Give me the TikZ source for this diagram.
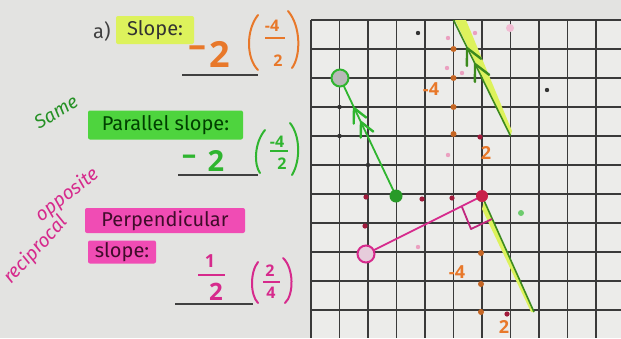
\documentclass[tikz,border=0pt]{standalone}
\usepackage{fontspec}
\setmainfont{Fira Sans}
\newfontfamily\hand{Open Sans}
\definecolor{bgc}{HTML}{E3E3E1}
\definecolor{paper}{HTML}{ECECEA}
\definecolor{gridc}{HTML}{3A3A3A}
\definecolor{hlyellow}{HTML}{DDF25C}
\definecolor{hlgreen}{HTML}{4ED43E}
\definecolor{hlpink}{HTML}{F04CB4}
\definecolor{orng}{HTML}{E8782A}
\definecolor{grn}{HTML}{2FB52F}
\definecolor{dgrn}{HTML}{3C8A1E}
\definecolor{mag}{HTML}{D62A8C}
\definecolor{redd}{HTML}{C8204A}
\definecolor{faintpink}{HTML}{EBA0C0}
\usetikzlibrary{calc}
\begin{document}
\begin{tikzpicture}[x=1pt,y=-1pt,
  gridline/.style={draw=gridc, line width=1.1pt},
  lbl/.style={font=\fontsize{20}{24}\selectfont, inner sep=0pt},
  hlbox/.style={lbl, rounded corners=2pt, inner xsep=4pt, inner ysep=0pt, minimum height=25pt},
  handbig/.style={font=\hand\bfseries\fontsize{36}{40}\selectfont, inner sep=0pt},
  handmid/.style={font=\hand\bfseries\fontsize{29}{32}\selectfont, inner sep=0pt},
  handsm/.style={font=\hand\bfseries\fontsize{18}{20}\selectfont, inner sep=0pt},
  handfr/.style={font=\hand\bfseries\fontsize{16}{18}\selectfont, inner sep=0pt},
  script/.style={font=\itshape\fontsize{19}{21}\selectfont, inner sep=0pt},
  uline/.style={draw=black!75, line width=1.3pt},
  paren/.style={line width=2pt, line cap=round},
  dotk/.style={fill=black!80},
  dotr/.style={fill=redd!80!black},
  doto/.style={fill=orng!85!black},
  dotp/.style={fill=faintpink}
]
\useasboundingbox (0,0) rectangle (621,338);
\fill[bgc] (0,0) rectangle (621,338);
\fill[paper] (311,20) rectangle (621,338);

% ---------- grid ----------
\foreach \i in {0,...,10} \draw[gridline] ({311+28.5*\i},20) -- ({311+28.5*\i},338);
\foreach \j in {0,...,10} \draw[gridline] (311,{20+29*\j}) -- (621,{20+29*\j});

% ---------- key points ----------
\coordinate (l1top) at (453.5,20);
\coordinate (l1bot) at (510.5,136);
\coordinate (gc) at (340,78);
\coordinate (gd) at (396,196);
\coordinate (pc) at (366,254);
\coordinate (rd) at (482,196);
\coordinate (l2bot) at (534,312);

% yellow highlights
\fill[hlyellow] (455,20) -- (466,20) -- (512,131) -- (510.5,136) -- cycle;
\fill[hlyellow] (484,201) -- (482,209) -- (531,312) -- (534,312) -- cycle;

% small dots
\foreach \p in {(339.5,107),(339.5,136),(368,165),(418,33),(547,90)} \fill[dotk] \p circle (2.2pt);
\foreach \p in {(448,38),(475,33),(447,68),(462,73),(448,155),(418,247)} \fill[dotp] \p circle (2.2pt);
\foreach \p in {(453.5,49),(453.5,78),(453.5,107),(453.5,134),(481,253),(481,284),(481,312)} \fill[doto] \p circle (3pt);
\foreach \p in {(480,137),(366,197),(422,199),(452,198),(365,226),(507,314)} \fill[dotr] \p circle (2.6pt);
\fill[grn!70] (521,213) circle (3pt);
\fill[faintpink!70] (510,28) circle (4pt);

% line 1 (given line) with chevrons
\draw[dgrn, line width=1.6pt] (l1top) -- (l1bot);
\coordinate (t1) at (467,48);
\coordinate (t2) at (475,64);
\draw[dgrn, line width=2.4pt, line cap=round, line join=round]
  (481.2,58.8) -- (t1) -- (466.9,65.9)
  (489.2,74.8) -- (t2) -- (474.9,81.9);

% parallel line (green)
\draw[grn, line width=1.8pt] (gc) -- (gd);
\coordinate (t3) at (354,108);
\coordinate (t4) at (361,122);
\draw[grn, line width=2.4pt, line cap=round, line join=round]
  (366.3,117.6) -- (t3) -- (353.7,123.6)
  (373.3,131.6) -- (t4) -- (360.7,137.6);
\node[circle, draw=grn, line width=2pt, fill=gray!55, minimum size=17pt, inner sep=0] (gcirc) at (gc) {};
\node[circle, fill=grn!85!black, minimum size=13pt, inner sep=0] (gdot) at (gd) {};

% second given line through red point
\draw[dgrn, line width=1.6pt] (rd) -- (l2bot);

% perpendicular line (magenta)
\draw[mag, line width=1.8pt] (pc) -- (rd);
\draw[mag!90!black, line width=1.8pt, line join=round] (462,207) -- (471,229) -- (492,219);
\node[circle, draw=mag, line width=2pt, fill=gray!50!mag!30, minimum size=17pt, inner sep=0] (pcirc) at (pc) {};
\node[circle, fill=redd, minimum size=12pt, inner sep=0] (rdot) at (rd) {};

% grid labels
\node[handsm, text=orng] (m4a) at (431,89) {-4};
\node[handsm, text=orng] (two1) at (486,153) {2};
\node[handsm, text=orng] (m4b) at (457,272) {-4};
\node[handsm, text=orng] (two2) at (504,327) {2};

% ---------- left text ----------
\node[lbl, text=black!75, anchor=base west] (apart) at (93,38) {a)};
\node[hlbox, fill=hlyellow, text=black!80, minimum width=78pt, minimum height=28pt] (slope) at (155,30) {Slope:};

\node[handbig, text=orng] (om) at (197,52) {–};
\node[handbig, text=orng] (o2) at (220,54) {2};
\draw[uline] (182,75) -- (258,75);
\draw[orng, paren] (258,15) .. controls (246,30) and (246,58) .. (258,70);
\draw[orng, paren] (288,11) .. controls (301,26) and (301,56) .. (292,68);
\node[handfr, text=orng] (on) at (272,26) {-4};
\draw[orng, line width=1.5pt] (265,38) -- (285,38);
\node[handfr, text=orng] (od) at (278,61) {2};

\node[script, text=grn!80!black, rotate=31] (same) at (56,112) {Same};
\node[hlbox, fill=hlgreen, text=black!75!green, minimum width=155pt, minimum height=29pt] (par) at (165.5,125) {Parallel slope:};

\node[handmid, text=grn] (gm) at (189,160) {–};
\node[handmid, text=grn] (g2) at (216,161) {2};
\draw[uline] (178,175) -- (258,175);
\draw[grn, paren] (265,130) .. controls (254,143) and (254,165) .. (260,173);
\draw[grn, paren] (290,123) .. controls (300,135) and (301,160) .. (292,175);
\node[handfr, text=grn] (gn) at (277,142) {-4};
\draw[grn, line width=1.4pt] (270,151) -- (288,151);
\node[handfr, text=grn] (gdn) at (282,164) {2};

\node[script, text=mag, rotate=38] (opp) at (67,195) {opposite};
\node[script, text=mag, rotate=47] (rec) at (36,250) {reciprocal};
\node[hlbox, fill=hlpink, text=black!70!mag, minimum width=160pt] (perp) at (165,220.5) {Perpendicular};
\node[hlbox, fill=hlpink, text=black!70!mag, minimum width=68pt, minimum height=23pt] (sl) at (122,252) {slope:};

\node[handsm, text=mag] (m1) at (210,261) {1};
\draw[mag, line width=1.8pt] (198,275) -- (225,275);
\node[handmid, text=mag, font=\hand\bfseries\fontsize{24}{26}\selectfont] (m2) at (216,292) {2};
\draw[uline] (175,304) -- (253,304);
\draw[mag, paren] (258,262) .. controls (250,272) and (250,295) .. (258,303);
\draw[mag, paren] (283,258) .. controls (294,268) and (294,295) .. (285,303);
\node[handfr, text=mag] (pn) at (270,271) {2};
\draw[mag, line width=1.4pt] (263,282) -- (280,282);
\node[handfr, text=mag] (pd) at (271,293) {4};
\end{tikzpicture}
\end{document}
